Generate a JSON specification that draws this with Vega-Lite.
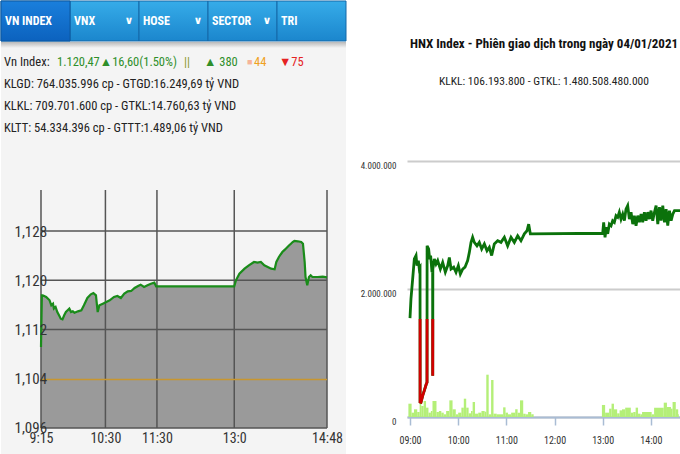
{
  "$schema": "https://vega.github.io/schema/vega-lite/v6.json",
  "padding": 0,
  "background": "white",
  "config": {
    "view": {"stroke": null},
    "font": "Roboto Condensed, Liberation Sans, sans-serif"
  },
  "datasets": {
    "tabs": [
      {"tab": "VN INDEX", "chev": ""},
      {"tab": "VNX", "chev": "∨"},
      {"tab": "HOSE", "chev": "∨"},
      {"tab": "SECTOR", "chev": "∨"},
      {"tab": "TRI", "chev": ""}
    ],
    "info": [
      {"line": 1, "seg": "a", "txt": "Vn Index:"},
      {"line": 1, "seg": "b", "txt": "1.120,47▲16,60(1.50%)"},
      {"line": 1, "seg": "c", "txt": "||"},
      {"line": 1, "seg": "d", "txt": "▲ 380"},
      {"line": 1, "seg": "e", "txt": "■"},
      {"line": 1, "seg": "f", "txt": "44"},
      {"line": 1, "seg": "g", "txt": "▼75"},
      {"line": 2, "seg": "a", "txt": "KLGD: 764.035.996 cp - GTGD:16.249,69 tỷ VND"},
      {"line": 3, "seg": "a", "txt": "KLKL: 709.701.600 cp - GTKL:14.760,63 tỷ VND"},
      {"line": 4, "seg": "a", "txt": "KLTT: 54.334.396 cp - GTTT:1.489,06 tỷ VND"}
    ],
    "vnidx": [
      {"t": "2021-01-04T09:15", "v": 1109.16},
      {"t": "2021-01-04T09:16", "v": 1117.55},
      {"t": "2021-01-04T09:17", "v": 1117.55},
      {"t": "2021-01-04T09:21", "v": 1117.28},
      {"t": "2021-01-04T09:25", "v": 1116.74},
      {"t": "2021-01-04T09:27", "v": 1115.93},
      {"t": "2021-01-04T09:29", "v": 1116.2},
      {"t": "2021-01-04T09:30", "v": 1115.39},
      {"t": "2021-01-04T09:32", "v": 1115.66},
      {"t": "2021-01-04T09:34", "v": 1114.84},
      {"t": "2021-01-04T09:36", "v": 1114.3},
      {"t": "2021-01-04T09:38", "v": 1113.76},
      {"t": "2021-01-04T09:40", "v": 1113.65},
      {"t": "2021-01-04T09:42", "v": 1114.3},
      {"t": "2021-01-04T09:44", "v": 1114.84},
      {"t": "2021-01-04T09:46", "v": 1115.12},
      {"t": "2021-01-04T09:48", "v": 1115.39},
      {"t": "2021-01-04T09:50", "v": 1114.84},
      {"t": "2021-01-04T09:52", "v": 1114.95},
      {"t": "2021-01-04T09:54", "v": 1114.73},
      {"t": "2021-01-04T09:58", "v": 1114.95},
      {"t": "2021-01-04T10:02", "v": 1115.12},
      {"t": "2021-01-04T10:05", "v": 1115.93},
      {"t": "2021-01-04T10:09", "v": 1117.12},
      {"t": "2021-01-04T10:13", "v": 1117.71},
      {"t": "2021-01-04T10:16", "v": 1117.93},
      {"t": "2021-01-04T10:19", "v": 1117.55},
      {"t": "2021-01-04T10:21", "v": 1114.84},
      {"t": "2021-01-04T10:23", "v": 1115.93},
      {"t": "2021-01-04T10:27", "v": 1116.2},
      {"t": "2021-01-04T10:31", "v": 1116.47},
      {"t": "2021-01-04T10:35", "v": 1116.74},
      {"t": "2021-01-04T10:40", "v": 1117.28},
      {"t": "2021-01-04T10:44", "v": 1117.44},
      {"t": "2021-01-04T10:48", "v": 1117.12},
      {"t": "2021-01-04T10:52", "v": 1117.82},
      {"t": "2021-01-04T10:56", "v": 1118.2},
      {"t": "2021-01-04T11:00", "v": 1118.26},
      {"t": "2021-01-04T11:04", "v": 1118.74},
      {"t": "2021-01-04T11:08", "v": 1119.07},
      {"t": "2021-01-04T11:11", "v": 1119.28},
      {"t": "2021-01-04T11:15", "v": 1118.9},
      {"t": "2021-01-04T11:19", "v": 1119.18},
      {"t": "2021-01-04T11:23", "v": 1119.44},
      {"t": "2021-01-04T11:27", "v": 1119.61},
      {"t": "2021-01-04T11:29", "v": 1119.01},
      {"t": "2021-01-04T13:00", "v": 1119.01},
      {"t": "2021-01-04T13:02", "v": 1119.99},
      {"t": "2021-01-04T13:06", "v": 1121.07},
      {"t": "2021-01-04T13:12", "v": 1121.88},
      {"t": "2021-01-04T13:17", "v": 1122.42},
      {"t": "2021-01-04T13:23", "v": 1122.97},
      {"t": "2021-01-04T13:27", "v": 1122.86},
      {"t": "2021-01-04T13:31", "v": 1122.97},
      {"t": "2021-01-04T13:35", "v": 1122.42},
      {"t": "2021-01-04T13:39", "v": 1122.15},
      {"t": "2021-01-04T13:43", "v": 1121.88},
      {"t": "2021-01-04T13:47", "v": 1121.78},
      {"t": "2021-01-04T13:49", "v": 1122.97},
      {"t": "2021-01-04T13:52", "v": 1123.78},
      {"t": "2021-01-04T13:56", "v": 1124.59},
      {"t": "2021-01-04T13:58", "v": 1124.86},
      {"t": "2021-01-04T14:00", "v": 1125.13},
      {"t": "2021-01-04T14:02", "v": 1125.4},
      {"t": "2021-01-04T14:04", "v": 1125.68},
      {"t": "2021-01-04T14:06", "v": 1125.94},
      {"t": "2021-01-04T14:08", "v": 1126.21},
      {"t": "2021-01-04T14:10", "v": 1126.38},
      {"t": "2021-01-04T14:14", "v": 1126.33},
      {"t": "2021-01-04T14:18", "v": 1126.21},
      {"t": "2021-01-04T14:20", "v": 1125.94},
      {"t": "2021-01-04T14:22", "v": 1122.97},
      {"t": "2021-01-04T14:23", "v": 1120.53},
      {"t": "2021-01-04T14:25", "v": 1119.18},
      {"t": "2021-01-04T14:27", "v": 1120.53},
      {"t": "2021-01-04T14:29", "v": 1120.8},
      {"t": "2021-01-04T14:31", "v": 1120.53},
      {"t": "2021-01-04T14:37", "v": 1120.53},
      {"t": "2021-01-04T14:43", "v": 1120.58},
      {"t": "2021-01-04T14:48", "v": 1120.47}
    ],
    "vgrid": [
      {"t": "2021-01-04T09:15"},
      {"t": "2021-01-04T10:30"},
      {"t": "2021-01-04T11:30"},
      {"t": "2021-01-04T13:00"},
      {"t": "2021-01-04T14:48"}
    ],
    "hgrid": [
      {"v": 1096}, {"v": 1112}, {"v": 1120}, {"v": 1128}
    ],
    "vol": [
      {"t": "2021-01-04T08:58", "t2": "2021-01-04T09:02", "vol": 208000},
      {"t": "2021-01-04T09:02", "t2": "2021-01-04T09:05", "vol": 68000},
      {"t": "2021-01-04T09:05", "t2": "2021-01-04T09:09", "vol": 120000},
      {"t": "2021-01-04T09:09", "t2": "2021-01-04T09:12", "vol": 78000},
      {"t": "2021-01-04T09:12", "t2": "2021-01-04T09:14", "vol": 234000},
      {"t": "2021-01-04T09:14", "t2": "2021-01-04T09:17", "vol": 172000},
      {"t": "2021-01-04T09:17", "t2": "2021-01-04T09:20", "vol": 250000},
      {"t": "2021-01-04T09:20", "t2": "2021-01-04T09:23", "vol": 146000},
      {"t": "2021-01-04T09:23", "t2": "2021-01-04T09:26", "vol": 68000},
      {"t": "2021-01-04T09:26", "t2": "2021-01-04T09:28", "vol": 94000},
      {"t": "2021-01-04T09:28", "t2": "2021-01-04T09:33", "vol": 250000},
      {"t": "2021-01-04T09:33", "t2": "2021-01-04T09:36", "vol": 78000},
      {"t": "2021-01-04T09:36", "t2": "2021-01-04T09:39", "vol": 94000},
      {"t": "2021-01-04T09:39", "t2": "2021-01-04T09:42", "vol": 68000},
      {"t": "2021-01-04T09:42", "t2": "2021-01-04T09:45", "vol": 42000},
      {"t": "2021-01-04T09:45", "t2": "2021-01-04T09:49", "vol": 94000},
      {"t": "2021-01-04T09:49", "t2": "2021-01-04T09:53", "vol": 260000},
      {"t": "2021-01-04T09:53", "t2": "2021-01-04T09:57", "vol": 120000},
      {"t": "2021-01-04T09:57", "t2": "2021-01-04T10:00", "vol": 42000},
      {"t": "2021-01-04T10:00", "t2": "2021-01-04T10:04", "vol": 68000},
      {"t": "2021-01-04T10:04", "t2": "2021-01-04T10:07", "vol": 146000},
      {"t": "2021-01-04T10:07", "t2": "2021-01-04T10:10", "vol": 286000},
      {"t": "2021-01-04T10:10", "t2": "2021-01-04T10:13", "vol": 146000},
      {"t": "2021-01-04T10:13", "t2": "2021-01-04T10:16", "vol": 57000},
      {"t": "2021-01-04T10:16", "t2": "2021-01-04T10:18", "vol": 94000},
      {"t": "2021-01-04T10:18", "t2": "2021-01-04T10:21", "vol": 234000},
      {"t": "2021-01-04T10:21", "t2": "2021-01-04T10:25", "vol": 52000},
      {"t": "2021-01-04T10:25", "t2": "2021-01-04T10:29", "vol": 68000},
      {"t": "2021-01-04T10:29", "t2": "2021-01-04T10:33", "vol": 94000},
      {"t": "2021-01-04T10:33", "t2": "2021-01-04T10:35", "vol": 83000},
      {"t": "2021-01-04T10:35", "t2": "2021-01-04T10:38", "vol": 661000},
      {"t": "2021-01-04T10:38", "t2": "2021-01-04T10:41", "vol": 42000},
      {"t": "2021-01-04T10:41", "t2": "2021-01-04T10:44", "vol": 578000},
      {"t": "2021-01-04T10:44", "t2": "2021-01-04T10:48", "vol": 52000},
      {"t": "2021-01-04T10:48", "t2": "2021-01-04T10:56", "vol": 42000},
      {"t": "2021-01-04T10:56", "t2": "2021-01-04T10:59", "vol": 151000},
      {"t": "2021-01-04T10:59", "t2": "2021-01-04T11:02", "vol": 68000},
      {"t": "2021-01-04T11:02", "t2": "2021-01-04T11:06", "vol": 42000},
      {"t": "2021-01-04T11:06", "t2": "2021-01-04T11:11", "vol": 68000},
      {"t": "2021-01-04T11:11", "t2": "2021-01-04T11:14", "vol": 120000},
      {"t": "2021-01-04T11:14", "t2": "2021-01-04T11:17", "vol": 68000},
      {"t": "2021-01-04T11:17", "t2": "2021-01-04T11:21", "vol": 260000},
      {"t": "2021-01-04T11:21", "t2": "2021-01-04T11:24", "vol": 52000},
      {"t": "2021-01-04T11:24", "t2": "2021-01-04T11:27", "vol": 42000},
      {"t": "2021-01-04T11:27", "t2": "2021-01-04T11:31", "vol": 78000},
      {"t": "2021-01-04T11:31", "t2": "2021-01-04T11:34", "vol": 42000},
      {"t": "2021-01-04T12:59", "t2": "2021-01-04T13:03", "vol": 188000},
      {"t": "2021-01-04T13:03", "t2": "2021-01-04T13:08", "vol": 68000},
      {"t": "2021-01-04T13:08", "t2": "2021-01-04T13:11", "vol": 130000},
      {"t": "2021-01-04T13:11", "t2": "2021-01-04T13:14", "vol": 208000},
      {"t": "2021-01-04T13:14", "t2": "2021-01-04T13:18", "vol": 120000},
      {"t": "2021-01-04T13:18", "t2": "2021-01-04T13:21", "vol": 57000},
      {"t": "2021-01-04T13:21", "t2": "2021-01-04T13:24", "vol": 104000},
      {"t": "2021-01-04T13:24", "t2": "2021-01-04T13:28", "vol": 120000},
      {"t": "2021-01-04T13:28", "t2": "2021-01-04T13:35", "vol": 146000},
      {"t": "2021-01-04T13:35", "t2": "2021-01-04T13:38", "vol": 68000},
      {"t": "2021-01-04T13:38", "t2": "2021-01-04T13:41", "vol": 78000},
      {"t": "2021-01-04T13:41", "t2": "2021-01-04T13:44", "vol": 146000},
      {"t": "2021-01-04T13:44", "t2": "2021-01-04T13:47", "vol": 52000},
      {"t": "2021-01-04T13:47", "t2": "2021-01-04T13:49", "vol": 42000},
      {"t": "2021-01-04T13:49", "t2": "2021-01-04T14:01", "vol": 78000},
      {"t": "2021-01-04T14:01", "t2": "2021-01-04T14:04", "vol": 42000},
      {"t": "2021-01-04T14:04", "t2": "2021-01-04T14:16", "vol": 146000},
      {"t": "2021-01-04T14:16", "t2": "2021-01-04T14:20", "vol": 224000},
      {"t": "2021-01-04T14:20", "t2": "2021-01-04T14:25", "vol": 156000},
      {"t": "2021-01-04T14:25", "t2": "2021-01-04T14:27", "vol": 130000},
      {"t": "2021-01-04T14:27", "t2": "2021-01-04T14:31", "vol": 234000},
      {"t": "2021-01-04T14:31", "t2": "2021-01-04T14:34", "vol": 120000},
      {"t": "2021-01-04T14:34", "t2": "2021-01-04T14:35", "vol": 42000}
    ],
    "hnx": [
      {"t": "2021-01-04T09:00:00", "v": 203.15},
      {"t": "2021-01-04T09:01:12", "v": 203.76},
      {"t": "2021-01-04T09:03:18", "v": 204.39},
      {"t": "2021-01-04T09:05:24", "v": 205.03},
      {"t": "2021-01-04T09:07:30", "v": 205.14},
      {"t": "2021-01-04T09:08:42", "v": 204.82},
      {"t": "2021-01-04T09:10:24", "v": 204.98},
      {"t": "2021-01-04T09:11:36", "v": 204.71},
      {"t": "2021-01-04T09:12:30", "v": 204.75},
      {"t": "2021-01-04T09:12:33", "v": 203.12, "below": 1},
      {"t": "2021-01-04T09:12:36", "v": 200.48, "below": 1},
      {"t": "2021-01-04T09:13:42", "v": 200.47, "below": 1},
      {"t": "2021-01-04T09:15:48", "v": 200.68, "below": 1},
      {"t": "2021-01-04T09:17:48", "v": 200.84, "below": 1},
      {"t": "2021-01-04T09:20:18", "v": 201.05, "below": 1},
      {"t": "2021-01-04T09:21:12", "v": 201.1, "below": 1},
      {"t": "2021-01-04T09:21:15", "v": 203.12, "below": 1},
      {"t": "2021-01-04T09:21:18", "v": 205.45},
      {"t": "2021-01-04T09:23:12", "v": 205.35},
      {"t": "2021-01-04T09:24:30", "v": 205.03},
      {"t": "2021-01-04T09:25:42", "v": 205.14},
      {"t": "2021-01-04T09:27:24", "v": 204.61},
      {"t": "2021-01-04T09:28:12", "v": 204.71},
      {"t": "2021-01-04T09:28:15", "v": 203.12, "below": 2},
      {"t": "2021-01-04T09:28:18", "v": 201.31, "below": 2},
      {"t": "2021-01-04T09:28:24", "v": 203.12, "below": 2},
      {"t": "2021-01-04T09:28:27", "v": 204.71},
      {"t": "2021-01-04T09:30:18", "v": 205.03},
      {"t": "2021-01-04T09:32:24", "v": 204.87},
      {"t": "2021-01-04T09:34:30", "v": 204.98},
      {"t": "2021-01-04T09:37:48", "v": 204.71},
      {"t": "2021-01-04T09:40:42", "v": 204.92},
      {"t": "2021-01-04T09:44:00", "v": 204.61},
      {"t": "2021-01-04T09:47:00", "v": 204.82},
      {"t": "2021-01-04T09:49:00", "v": 205.08},
      {"t": "2021-01-04T09:51:06", "v": 204.71},
      {"t": "2021-01-04T09:54:24", "v": 204.77},
      {"t": "2021-01-04T09:57:18", "v": 204.61},
      {"t": "2021-01-04T10:00:12", "v": 204.82},
      {"t": "2021-01-04T10:02:42", "v": 204.55},
      {"t": "2021-01-04T10:05:36", "v": 204.71},
      {"t": "2021-01-04T10:08:30", "v": 204.77},
      {"t": "2021-01-04T10:11:48", "v": 204.98},
      {"t": "2021-01-04T10:13:54", "v": 205.24},
      {"t": "2021-01-04T10:16:00", "v": 205.56},
      {"t": "2021-01-04T10:18:00", "v": 205.72},
      {"t": "2021-01-04T10:20:06", "v": 205.56},
      {"t": "2021-01-04T10:23:24", "v": 205.45},
      {"t": "2021-01-04T10:26:18", "v": 205.56},
      {"t": "2021-01-04T10:29:18", "v": 205.35},
      {"t": "2021-01-04T10:32:36", "v": 205.51},
      {"t": "2021-01-04T10:35:54", "v": 205.29},
      {"t": "2021-01-04T10:38:48", "v": 205.4},
      {"t": "2021-01-04T10:41:42", "v": 205.14},
      {"t": "2021-01-04T10:45:00", "v": 205.51},
      {"t": "2021-01-04T10:49:12", "v": 205.61},
      {"t": "2021-01-04T10:53:18", "v": 205.56},
      {"t": "2021-01-04T10:57:30", "v": 205.72},
      {"t": "2021-01-04T11:01:36", "v": 205.45},
      {"t": "2021-01-04T11:05:48", "v": 205.72},
      {"t": "2021-01-04T11:09:54", "v": 205.56},
      {"t": "2021-01-04T11:14:06", "v": 205.77},
      {"t": "2021-01-04T11:18:12", "v": 205.61},
      {"t": "2021-01-04T11:22:24", "v": 205.83},
      {"t": "2021-01-04T11:25:42", "v": 205.93},
      {"t": "2021-01-04T11:27:48", "v": 206.14},
      {"t": "2021-01-04T11:29:54", "v": 205.83},
      {"t": "2021-01-04T13:00:00", "v": 205.85},
      {"t": "2021-01-04T13:01:12", "v": 206.2},
      {"t": "2021-01-04T13:02:54", "v": 205.72},
      {"t": "2021-01-04T13:04:30", "v": 206.04},
      {"t": "2021-01-04T13:06:12", "v": 205.83},
      {"t": "2021-01-04T13:08:18", "v": 206.14},
      {"t": "2021-01-04T13:10:24", "v": 206.09},
      {"t": "2021-01-04T13:12:24", "v": 206.25},
      {"t": "2021-01-04T13:14:30", "v": 206.2},
      {"t": "2021-01-04T13:16:36", "v": 206.41},
      {"t": "2021-01-04T13:18:42", "v": 206.36},
      {"t": "2021-01-04T13:20:42", "v": 206.52},
      {"t": "2021-01-04T13:22:48", "v": 206.3},
      {"t": "2021-01-04T13:24:54", "v": 206.46},
      {"t": "2021-01-04T13:27:00", "v": 206.25},
      {"t": "2021-01-04T13:29:00", "v": 206.62},
      {"t": "2021-01-04T13:31:06", "v": 206.73},
      {"t": "2021-01-04T13:33:12", "v": 206.3},
      {"t": "2021-01-04T13:35:18", "v": 206.52},
      {"t": "2021-01-04T13:37:24", "v": 206.14},
      {"t": "2021-01-04T13:39:24", "v": 206.41},
      {"t": "2021-01-04T13:41:30", "v": 206.09},
      {"t": "2021-01-04T13:43:36", "v": 206.41},
      {"t": "2021-01-04T13:45:42", "v": 206.2},
      {"t": "2021-01-04T13:47:48", "v": 206.46},
      {"t": "2021-01-04T13:49:48", "v": 206.2},
      {"t": "2021-01-04T13:51:54", "v": 206.52},
      {"t": "2021-01-04T13:54:00", "v": 206.25},
      {"t": "2021-01-04T13:56:06", "v": 206.52},
      {"t": "2021-01-04T13:58:12", "v": 206.3},
      {"t": "2021-01-04T14:00:12", "v": 206.57},
      {"t": "2021-01-04T14:02:18", "v": 206.25},
      {"t": "2021-01-04T14:04:24", "v": 206.52},
      {"t": "2021-01-04T14:06:30", "v": 206.73},
      {"t": "2021-01-04T14:08:36", "v": 206.14},
      {"t": "2021-01-04T14:10:42", "v": 206.68},
      {"t": "2021-01-04T14:12:42", "v": 206.25},
      {"t": "2021-01-04T14:14:48", "v": 206.73},
      {"t": "2021-01-04T14:16:54", "v": 206.2},
      {"t": "2021-01-04T14:19:00", "v": 206.62},
      {"t": "2021-01-04T14:21:00", "v": 206.09},
      {"t": "2021-01-04T14:23:06", "v": 206.57},
      {"t": "2021-01-04T14:25:12", "v": 206.25},
      {"t": "2021-01-04T14:27:18", "v": 206.46},
      {"t": "2021-01-04T14:29:24", "v": 206.57},
      {"t": "2021-01-04T14:37:30", "v": 206.57}
    ]
  },
  "spacing": 13,
  "hconcat": [
    {
      "spacing": 0,
      "vconcat": [
        {
          "width": 345,
          "height": 40,
          "data": {"name": "tabs"},
          "layer": [
            {
              "mark": {
                "type": "rect",
                "fill": {"gradient": "linear", "x1": 0, "y1": 0, "x2": 0, "y2": 1,
                  "stops": [{"offset": 0, "color": "#36ace9"}, {"offset": 1, "color": "#1b86cd"}]},
                "stroke": "#1468a8",
                "strokeWidth": 1
              },
              "encoding": {
                "x": {"field": "tab", "type": "nominal", "sort": null, "axis": null,
                  "scale": {"paddingInner": 0, "paddingOuter": 0}}
              }
            },
            {
              "transform": [{"filter": "datum.tab === 'VN INDEX'"}],
              "mark": {
                "type": "rect",
                "fill": {"gradient": "linear", "x1": 0, "y1": 0, "x2": 0, "y2": 1,
                  "stops": [{"offset": 0, "color": "#1a7fdc"}, {"offset": 1, "color": "#0c62be"}]},
                "stroke": "#0d58a0",
                "strokeWidth": 1
              },
              "encoding": {
                "x": {"field": "tab", "type": "nominal", "sort": null, "axis": null}
              }
            },
            {
              "mark": {"type": "text", "align": "left", "dx": 4, "color": "white", "fontWeight": "bold", "fontSize": 12},
              "encoding": {
                "x": {"field": "tab", "type": "nominal", "sort": null, "bandPosition": 0},
                "text": {"field": "tab"}
              }
            },
            {
              "mark": {"type": "text", "align": "center", "dx": -10, "color": "white", "fontWeight": "bold", "fontSize": 11, "font": "DejaVu Sans"},
              "encoding": {
                "x": {"field": "tab", "type": "nominal", "sort": null, "bandPosition": 1},
                "text": {"field": "chev"}
              }
            }
          ]
        },
        {
          "width": 345,
          "height": 100,
          "view": {"fill": {"gradient": "linear", "x1": 0, "y1": 0, "x2": 0, "y2": 1,
            "stops": [{"offset": 0, "color": "#b9b9b9"}, {"offset": 0.06, "color": "#f4f4f4"}, {"offset": 1, "color": "#f4f4f4"}]}},
          "data": {"name": "info"},
          "encoding": {
            "y": {"field": "line", "type": "quantitative", "axis": null,
              "scale": {"domain": [0.0909, 4.636], "reverse": true, "nice": false, "zero": false}}
          },
          "layer": [
            {"transform": [{"filter": "datum.seg === 'a'"}],
             "mark": {"type": "text", "align": "left", "x": 3, "fontSize": 12.5, "color": "#222"},
             "encoding": {"text": {"field": "txt"}}},
            {"transform": [{"filter": "datum.seg === 'b'"}],
             "mark": {"type": "text", "align": "left", "x": 56, "fontSize": 12.5, "color": "#2f8f2a"},
             "encoding": {"text": {"field": "txt"}}},
            {"transform": [{"filter": "datum.seg === 'c'"}],
             "mark": {"type": "text", "align": "left", "x": 183, "fontSize": 12.5, "color": "#8a9a2a"},
             "encoding": {"text": {"field": "txt"}}},
            {"transform": [{"filter": "datum.seg === 'd'"}],
             "mark": {"type": "text", "align": "left", "x": 203, "fontSize": 12.5, "color": "#2f8f2a"},
             "encoding": {"text": {"field": "txt"}}},
            {"transform": [{"filter": "datum.seg === 'e'"}],
             "mark": {"type": "text", "align": "left", "x": 246, "fontSize": 9, "color": "#f6b49a"},
             "encoding": {"text": {"field": "txt"}}},
            {"transform": [{"filter": "datum.seg === 'f'"}],
             "mark": {"type": "text", "align": "left", "x": 253, "fontSize": 12.5, "color": "#f0a020"},
             "encoding": {"text": {"field": "txt"}}},
            {"transform": [{"filter": "datum.seg === 'g'"}],
             "mark": {"type": "text", "align": "left", "x": 278, "fontSize": 12.5, "color": "#e52222"},
             "encoding": {"text": {"field": "txt"}}}
          ]
        },
        {
          "width": 345,
          "height": 314,
          "view": {"fill": "#f4f4f4"},
          "layer": [
            {
              "data": {"name": "vnidx"},
              "mark": {"type": "area", "color": "#9a9a9a", "opacity": 1},
              "encoding": {
                "x": {"field": "t", "type": "temporal",
                  "scale": {"domain": [
                    {"year": 2021, "month": 1, "date": 4, "hours": 8, "minutes": 28, "seconds": 26},
                    {"year": 2021, "month": 1, "date": 4, "hours": 15, "minutes": 10, "seconds": 7}]},
                  "axis": {
                    "values": [
                      {"year": 2021, "month": 1, "date": 4, "hours": 9, "minutes": 15},
                      {"year": 2021, "month": 1, "date": 4, "hours": 10, "minutes": 30},
                      {"year": 2021, "month": 1, "date": 4, "hours": 11, "minutes": 30},
                      {"year": 2021, "month": 1, "date": 4, "hours": 13, "minutes": 0},
                      {"year": 2021, "month": 1, "date": 4, "hours": 14, "minutes": 48}],
                    "format": "%-H:%M",
                    "labelExpr": "datum.label == '13:00' ? '13:0' : datum.label",
                    "domain": false, "ticks": false, "tickSize": 0, "grid": false, "title": null,
                    "labelPadding": -25, "labelFontSize": 14, "labelColor": "#333",
                    "labelFlush": false, "labelOverlap": false, "labelBound": false, "zindex": 2
                  }},
                "y": {"field": "v", "type": "quantitative",
                  "scale": {"domain": [1091.45, 1142.46], "zero": false, "nice": false},
                  "axis": {
                    "values": [1096, 1104, 1112, 1120, 1128],
                    "format": ",d",
                    "labelAlign": "left", "labelBaseline": "middle",
                    "labelPadding": -13, "tickSize": 0, "ticks": false, "domain": false, "grid": false, "title": null,
                    "labelFontSize": 15, "labelColor": "#333", "labelOverlap": false, "labelFlush": false, "zindex": 2
                  }},
                "y2": {"datum": 1096}
              }
            },
            {
              "data": {"name": "vgrid"},
              "mark": {"type": "rule", "color": "#555555", "strokeWidth": 1.5},
              "encoding": {
                "x": {"field": "t", "type": "temporal"},
                "y": {"datum": 1096},
                "y2": {"datum": 1134.66}
              }
            },
            {
              "data": {"name": "hgrid"},
              "mark": {"type": "rule", "color": "#555555", "strokeWidth": 1.5},
              "encoding": {
                "y": {"field": "v", "type": "quantitative"},
                "x": {"datum": {"year": 2021, "month": 1, "date": 4, "hours": 9, "minutes": 15}, "type": "temporal"},
                "x2": {"datum": {"year": 2021, "month": 1, "date": 4, "hours": 14, "minutes": 48}}
              }
            },
            {
              "data": {"values": [{"ref": 1103.87}]},
              "mark": {"type": "rule", "color": "#c8962f", "strokeWidth": 1.5},
              "encoding": {
                "y": {"field": "ref", "type": "quantitative"},
                "x": {"datum": {"year": 2021, "month": 1, "date": 4, "hours": 9, "minutes": 15}, "type": "temporal"},
                "x2": {"datum": {"year": 2021, "month": 1, "date": 4, "hours": 14, "minutes": 48}}
              }
            },
            {
              "data": {"name": "vnidx"},
              "mark": {"type": "line", "color": "#1a8c1a", "strokeWidth": 2.2},
              "encoding": {
                "x": {"field": "t", "type": "temporal"},
                "y": {"field": "v", "type": "quantitative"}
              }
            }
          ]
        }
      ]
    },
    {
      "spacing": 0,
      "vconcat": [
        {
          "width": 10,
          "height": 36,
          "data": {"values": [{}]},
          "mark": {"type": "text"},
          "encoding": {"text": {"value": ""}}
        },
        {
          "width": 274,
          "height": 256,
          "title": {
            "text": "HNX Index - Phiên giao dịch trong ngày 04/01/2021",
            "subtitle": "KLKL: 106.193.800 - GTKL: 1.480.508.480.000",
            "anchor": "middle",
            "frame": "group",
            "fontSize": 13,
            "fontWeight": "bold",
            "color": "#111",
            "subtitleFontSize": 11.5,
            "subtitleColor": "#222",
            "subtitlePadding": 25,
            "offset": 74
          },
          "layer": [
            {
              "data": {"name": "vol"},
              "mark": {"type": "bar", "color": "#b4ef78"},
              "encoding": {
                "x": {"field": "t", "type": "temporal",
                  "scale": {"domain": [
                    {"year": 2021, "month": 1, "date": 4, "hours": 8, "minutes": 56, "seconds": 16},
                    {"year": 2021, "month": 1, "date": 4, "hours": 14, "minutes": 37, "seconds": 30}]},
                  "axis": {
                    "values": [
                      {"year": 2021, "month": 1, "date": 4, "hours": 9},
                      {"year": 2021, "month": 1, "date": 4, "hours": 10},
                      {"year": 2021, "month": 1, "date": 4, "hours": 11},
                      {"year": 2021, "month": 1, "date": 4, "hours": 12},
                      {"year": 2021, "month": 1, "date": 4, "hours": 13},
                      {"year": 2021, "month": 1, "date": 4, "hours": 14}],
                    "format": "%H:%M",
                    "domainColor": "#a9bcd4", "domainWidth": 2,
                    "tickColor": "#a9bcd4", "tickWidth": 1.5, "tickSize": 8,
                    "labelPadding": 10, "labelFontSize": 10, "labelColor": "#333",
                    "grid": false, "title": null, "labelFlush": false, "labelOverlap": false
                  }},
                "x2": {"field": "t2"},
                "y": {"field": "vol", "type": "quantitative",
                  "scale": {"domain": [0, 4000000], "nice": false},
                  "axis": {
                    "values": [0, 2000000, 4000000],
                    "format": ",d",
                    "labelExpr": "replace(datum.label, regexp(',', 'g'), '.')",
                    "domain": false, "ticks": false, "tickSize": 0,
                    "grid": true, "gridColor": "#cccccc", "gridWidth": 2,
                    "labelPadding": 11, "labelFontSize": 9, "labelColor": "#333",
                    "labelOffset": 4, "title": null
                  }},
                "y2": {"datum": 0}
              }
            },
            {
              "data": {"name": "hnx"},
              "encoding": {
                "x": {"field": "t", "type": "temporal"},
                "y": {"field": "v", "type": "quantitative",
                  "scale": {"domain": [200, 208.15], "zero": false, "nice": false}, "axis": null}
              },
              "layer": [
                {"mark": {"type": "line", "color": "#0b720b", "strokeWidth": 2.8, "clip": true}},
                {"transform": [{"filter": {"field": "below", "valid": true}}],
                 "mark": {"type": "line", "color": "#d00000", "strokeWidth": 2.8},
                 "encoding": {"detail": {"field": "below", "type": "nominal"}}}
              ]
            }
          ],
          "resolve": {"scale": {"y": "independent"}}
        }
      ]
    }
  ]
}
